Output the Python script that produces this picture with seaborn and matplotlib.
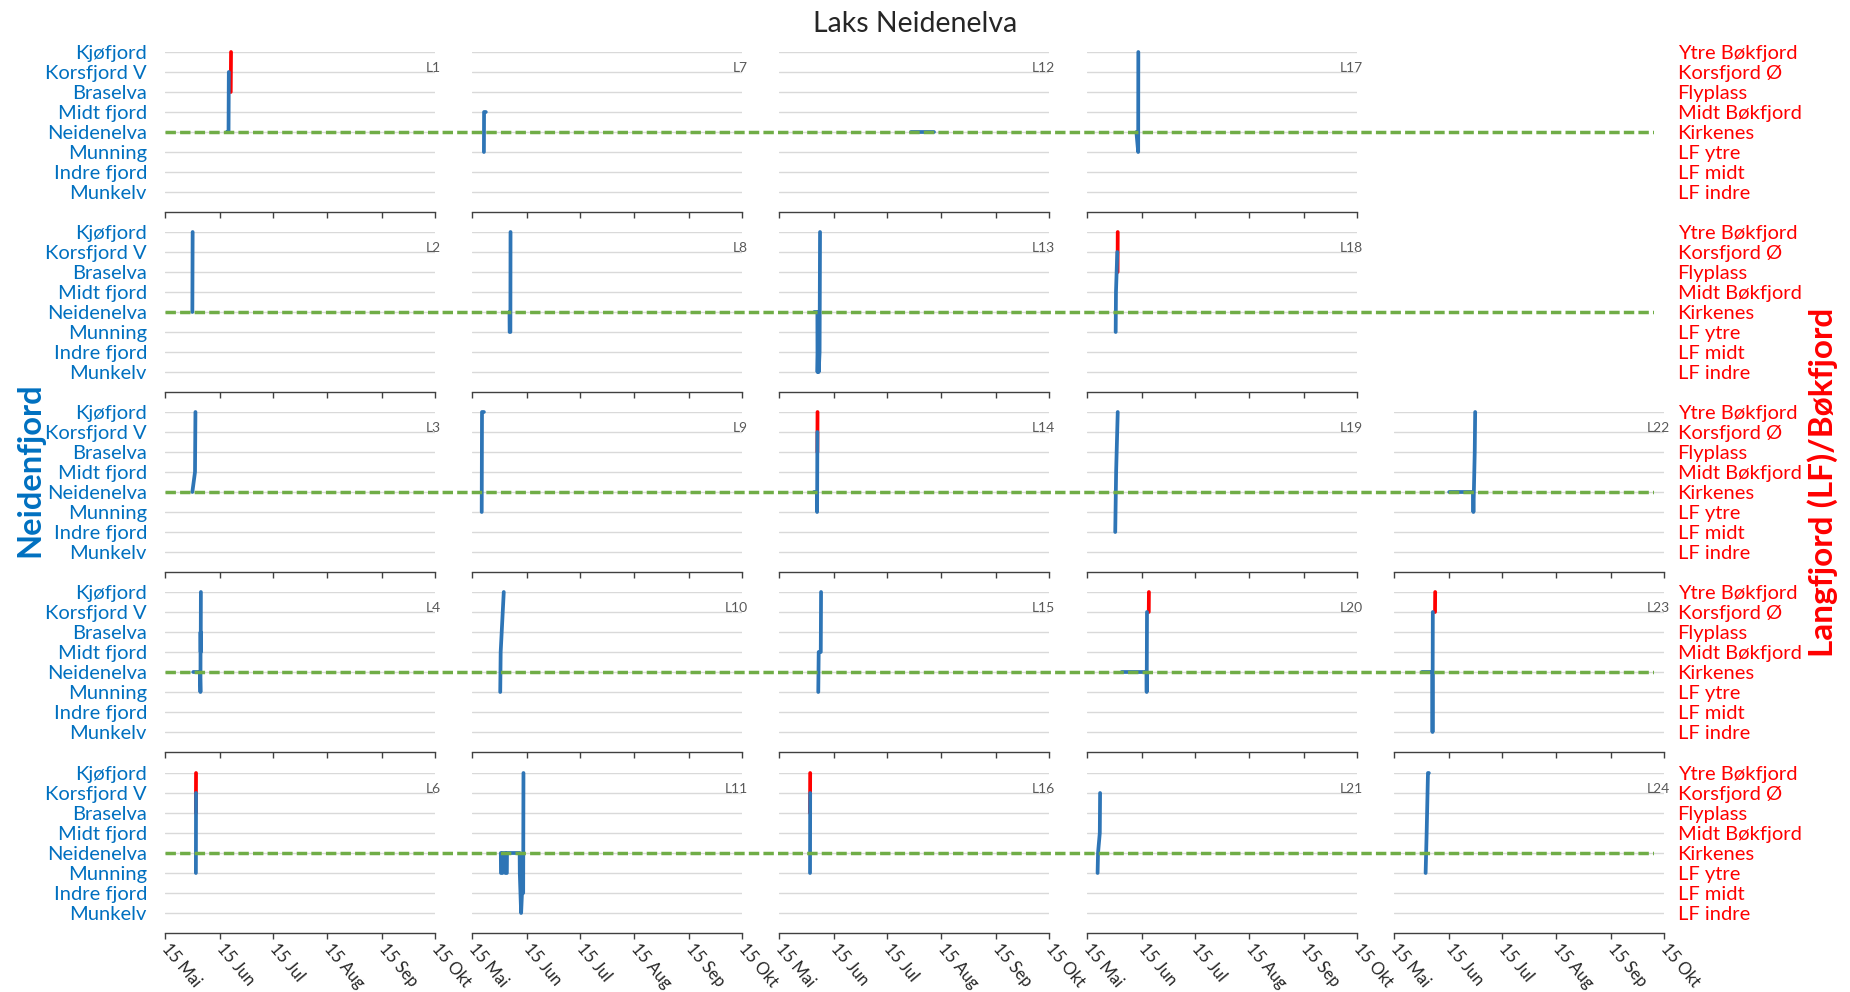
import pandas as pd
import seaborn as sns
import matplotlib.pyplot as plt
from matplotlib.transforms import blended_transform_factory

# receiver stations, bottom to top (same grid rows on both sides)
left_stations = ["Munkelv", "Indre fjord", "Munning", "Neidenelva",
                 "Midt fjord", "Braselva", "Korsfjord V", "Kjøfjord"]
right_stations = ["LF indre", "LF midt", "LF ytre", "Kirkenes",
                  "Midt Bøkfjord", "Flyplass", "Korsfjord Ø", "Ytre Bøkfjord"]
river_station = "Neidenelva"

year = "2019"
month_ticks = ["05-15", "06-15", "07-15", "08-15", "09-15", "10-15"]
month_labels = ["15 Mai", "15 Jun", "15 Jul", "15 Aug", "15 Sep", "15 Okt"]

panel_rows = [
    ["L1", "L7", "L12", "L17", None],
    ["L2", "L8", "L13", "L18", None],
    ["L3", "L9", "L14", "L19", "L22"],
    ["L4", "L10", "L15", "L20", "L23"],
    ["L6", "L11", "L16", "L21", "L24"],
]

# detections in Neidenfjord (left axis)
neiden_tracks = {
    "L1": [("06-19 00:00", "Neidenelva"), ("06-20 00:00", "Neidenelva"), ("06-20 04:00", "Korsfjord V")],
    "L2": [("05-30 12:00", "Neidenelva"), ("05-30 16:00", "Kjøfjord")],
    "L3": [("05-30 12:00", "Neidenelva"), ("06-01 00:00", "Midt fjord"), ("06-01 06:00", "Kjøfjord")],
    "L4": [("05-31 00:00", "Neidenelva"), ("06-03 20:00", "Neidenelva"), ("06-04 02:00", "Munning"),
           ("06-04 04:00", "Braselva"), ("06-04 06:00", "Midt fjord"), ("06-04 08:00", "Kjøfjord")],
    "L6": [("06-01 12:00", "Munning"), ("06-01 14:00", "Korsfjord V")],
    "L7": [("05-21 18:00", "Munning"), ("05-21 20:00", "Midt fjord"), ("05-22 20:00", "Midt fjord")],
    "L8": [("06-05 06:00", "Neidenelva"), ("06-05 08:00", "Munning"), ("06-05 18:00", "Munning"),
           ("06-05 20:00", "Kjøfjord")],
    "L9": [("05-20 12:00", "Munning"), ("05-20 16:00", "Kjøfjord"), ("05-21 18:00", "Kjøfjord")],
    "L10": [("05-31 00:00", "Munning"), ("05-31 06:00", "Midt fjord"), ("06-02 00:00", "Kjøfjord")],
    "L11": [("05-31 08:00", "Neidenelva"), ("05-31 10:00", "Munning"), ("06-01 06:00", "Munning"),
            ("06-01 08:00", "Neidenelva"), ("06-02 20:00", "Neidenelva"), ("06-02 22:00", "Munning"),
            ("06-03 18:00", "Munning"), ("06-03 20:00", "Neidenelva"), ("06-11 00:00", "Neidenelva"),
            ("06-11 02:00", "Munning"), ("06-11 20:00", "Munkelv"), ("06-12 08:00", "Indre fjord"),
            ("06-13 00:00", "Indre fjord"), ("06-13 04:00", "Kjøfjord")],
    "L12": [("07-29 00:00", "Neidenelva"), ("08-11 00:00", "Neidenelva")],
    "L13": [("06-04 00:00", "Neidenelva"), ("06-05 18:00", "Neidenelva"), ("06-05 20:00", "Munkelv"),
            ("06-06 06:00", "Munning"), ("06-06 12:00", "Munkelv"), ("06-07 00:00", "Indre fjord"),
            ("06-07 06:00", "Kjøfjord")],
    "L14": [("06-03 20:00", "Neidenelva"), ("06-05 12:00", "Neidenelva"), ("06-05 14:00", "Munning"),
            ("06-05 18:00", "Korsfjord V")],
    "L15": [("06-06 06:00", "Munning"), ("06-06 12:00", "Midt fjord"), ("06-07 16:00", "Midt fjord"),
            ("06-07 20:00", "Kjøfjord")],
    "L16": [("06-01 14:00", "Munning"), ("06-01 16:00", "Korsfjord V")],
    "L17": [("06-12 00:00", "Neidenelva"), ("06-13 00:00", "Munning"), ("06-13 02:00", "Kjøfjord")],
    "L18": [("05-31 06:00", "Munning"), ("05-31 10:00", "Midt fjord"), ("06-01 04:00", "Korsfjord V")],
    "L19": [("05-31 00:00", "Indre fjord"), ("05-31 12:00", "Midt fjord"), ("06-01 10:00", "Kjøfjord")],
    "L20": [("06-03 16:00", "Neidenelva"), ("06-17 18:00", "Neidenelva"), ("06-17 20:00", "Munning"),
            ("06-18 00:00", "Korsfjord V")],
    "L21": [("05-21 00:00", "Munning"), ("05-21 06:00", "Neidenelva"), ("05-22 06:00", "Midt fjord"),
            ("05-22 10:00", "Korsfjord V")],
    "L22": [("06-15 06:00", "Neidenelva"), ("06-28 18:00", "Neidenelva"), ("06-29 00:00", "Munning"),
            ("06-29 06:00", "Neidenelva"), ("06-29 18:00", "Braselva"), ("06-30 00:00", "Kjøfjord")],
    "L23": [("05-30 21:00", "Neidenelva"), ("06-05 18:00", "Neidenelva"), ("06-05 20:00", "Munkelv"),
            ("06-06 00:00", "Korsfjord V")],
    "L24": [("06-01 22:00", "Munning"), ("06-02 12:00", "Midt fjord"), ("06-03 06:00", "Kjøfjord"),
            ("06-03 18:00", "Kjøfjord")],
}

# detections in Langfjord / Bøkfjord (right axis)
bok_tracks = {
    "L1": [("06-21 06:00", "Flyplass"), ("06-21 10:00", "Ytre Bøkfjord")],
    "L6": [("06-01 12:00", "Flyplass"), ("06-01 14:00", "Ytre Bøkfjord")],
    "L14": [("06-05 18:00", "Flyplass"), ("06-05 20:00", "Ytre Bøkfjord")],
    "L16": [("06-01 14:00", "Flyplass"), ("06-01 16:00", "Ytre Bøkfjord")],
    "L18": [("06-01 08:00", "Flyplass"), ("06-01 10:00", "Ytre Bøkfjord")],
    "L20": [("06-19 00:00", "Korsfjord Ø"), ("06-19 02:00", "Ytre Bøkfjord")],
    "L23": [("06-07 06:00", "Korsfjord Ø"), ("06-07 08:00", "Ytre Bøkfjord")],
}

BLUE = "#2E75B6"
RED = "#FF0000"
LABEL_BLUE = "#0070C0"
GREEN = "#70AD47"

records = []
for fjord, tracks, stations in [("Bøkfjord", bok_tracks, right_stations),
                                ("Neidenfjord", neiden_tracks, left_stations)]:
    for tag, pts in tracks.items():
        for t, st in pts:
            records.append({"tag": tag, "fjord": fjord,
                            "time": pd.Timestamp(f"{year}-{t}"),
                            "level": stations.index(st) + 1})
df = pd.DataFrame(records)

sns.set_theme(style="white")
plt.rcParams["font.family"] = ["Lato", "DejaVu Sans"]

W, H = 1850, 992
fig = plt.figure(figsize=(W / 100, H / 100), dpi=100)

col_left = [165, 472, 779, 1087, 1394]
row_top = [52, 232, 412, 592, 773]
pw, ph = 270, 160

xmin = pd.Timestamp(f"{year}-{month_ticks[0]}")
xmax = pd.Timestamp(f"{year}-{month_ticks[-1]}")
ticks = [pd.Timestamp(f"{year}-{m}") for m in month_ticks]
nlev = len(left_stations)

for r, row in enumerate(panel_rows):
    for c, tag in enumerate(row):
        if tag is None:
            continue
        ax = fig.add_axes([col_left[c] / W, 1 - (row_top[r] + ph) / H, pw / W, ph / H])
        sub = df[df["tag"] == tag]
        sns.lineplot(data=sub, x="time", y="level", hue="fjord",
                     hue_order=["Bøkfjord", "Neidenfjord"],
                     palette={"Neidenfjord": BLUE, "Bøkfjord": RED},
                     sort=False, estimator=None, legend=False, lw=2.7,
                     solid_capstyle="round", clip_on=False, ax=ax)
        ax.set_xlim(xmin, xmax)
        ax.set_ylim(0, nlev)
        ax.set_yticks(range(1, nlev + 1))
        ax.yaxis.grid(True, color="#D9D9D9", lw=1)
        ax.set_axisbelow(True)
        for s in ["top", "left", "right"]:
            ax.spines[s].set_visible(False)
        ax.spines["bottom"].set_color("#404040")
        ax.spines["bottom"].set_linewidth(1)
        ax.set_xlabel("")
        ax.set_ylabel("")
        ax.set_xticks(ticks)
        ax.tick_params(axis="x", direction="out", length=4, width=1, color="#404040",
                       bottom=True, pad=5)
        ax.tick_params(axis="y", length=0)
        if r == len(panel_rows) - 1:
            ax.set_xticklabels(month_labels, fontsize=12, color="#262626")
            plt.setp(ax.get_xticklabels(), rotation=-50, ha="left", va="center",
                     rotation_mode="anchor")
        else:
            ax.set_xticklabels([])
        if c == 0:
            ax.set_yticklabels(left_stations, fontsize=14.5, color=LABEL_BLUE)
            ax.tick_params(axis="y", pad=13)
        else:
            ax.set_yticklabels([])
        tr = blended_transform_factory(ax.transAxes, ax.transData)
        ax.text(1.022, 7.2, tag, transform=tr, ha="right", va="center",
                fontsize=10, color="#595959")

# row-wide overlay: river reference line and right-hand station names
for r in range(len(panel_rows)):
    ov = fig.add_axes([col_left[0] / W, 1 - (row_top[r] + ph) / H, (1654 - col_left[0]) / W, ph / H])
    ov.patch.set_alpha(0)
    for s in ov.spines.values():
        s.set_visible(False)
    ov.set_xlim(0, 1)
    ov.set_ylim(0, nlev)
    ov.set_xticks([])
    ov.axhline(left_stations.index(river_station) + 1, color=GREEN, lw=2.5,
               dashes=(3.0, 1.2))
    ov.yaxis.tick_right()
    ov.set_yticks(range(1, nlev + 1))
    ov.set_yticklabels(right_stations, fontsize=14.5, color=RED)
    ov.tick_params(axis="y", length=0, pad=17)

fig.text(915 / W, 1 - 24 / H, "Laks Neidenelva", ha="center", va="center", fontsize=20.5)
fig.text(30 / W, 1 - 470 / H, "Neidenfjord", rotation=90, ha="center", va="center",
         fontsize=23.5, fontweight="bold", color=LABEL_BLUE)
fig.text(1823 / W, 1 - 482 / H, "Langfjord (LF)/Bøkfjord", rotation=90, ha="center",
         va="center", fontsize=24, fontweight="bold", color=RED)

fig.savefig("out.png", dpi=100)
